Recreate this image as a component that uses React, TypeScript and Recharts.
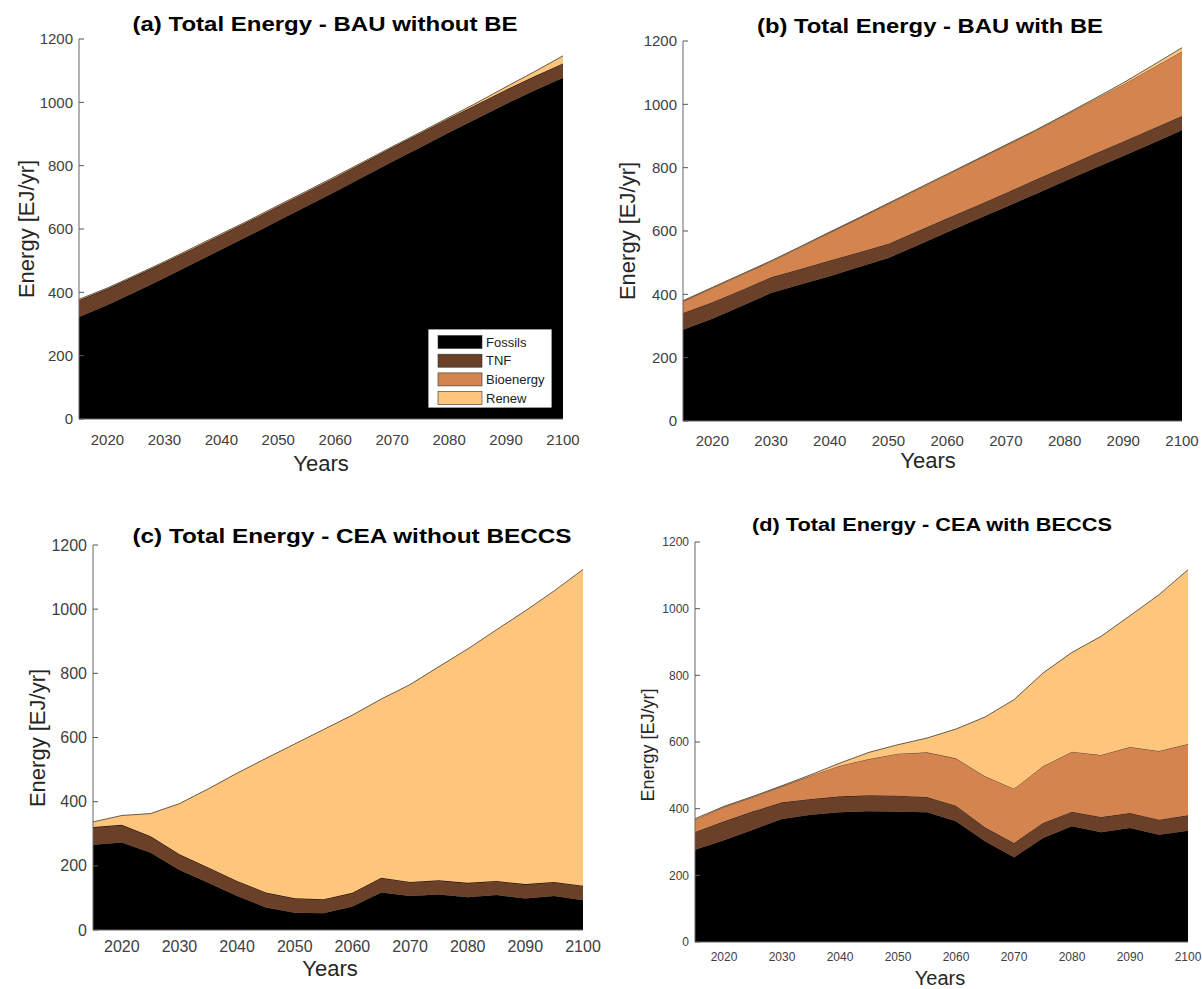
import React from 'react';
import { AreaChart, Area, XAxis, YAxis } from 'recharts';

const YEARS = [2015, 2020, 2025, 2030, 2035, 2040, 2045, 2050, 2055, 2060, 2065, 2070, 2075, 2080, 2085, 2090, 2095, 2100];
const X_TICKS = [2020, 2030, 2040, 2050, 2060, 2070, 2080, 2090, 2100];
const Y_TICKS = [0, 200, 400, 600, 800, 1000, 1200];
const SERIES = ['Fossils', 'TNF', 'Bioenergy', 'Renew'];
const COLORS = ['#000000', '#6B4029', '#D4844F', '#FEC57C'];

// (a) BAU without BE
const aFossils = [322, 360, 402, 445, 490, 535, 580, 626, 672, 718, 765, 812, 858, 905, 950, 995, 1037, 1078];
const aTNF = [53, 51, 50, 49, 48, 47, 46, 46, 45, 45, 45, 45, 45, 45, 45, 45, 45, 45];
const aBio = [0, 0, 0, 0, 0, 0, 0, 0, 0, 0, 0, 0, 0, 0, 0, 0, 0, 0];
const aRenew = [3, 3, 3, 3, 3, 3, 3, 3, 3, 3, 3, 3, 3, 3, 5, 9, 15, 24];

// (b) BAU with BE
const bFossils = [288, 323, 363, 404, 431, 457, 486, 515, 555, 596, 636, 676, 716, 757, 797, 837, 877, 918];
const bTNF = [53, 52, 51, 50, 49, 50, 47, 45, 45, 44, 44, 44, 46, 45, 46, 46, 46, 45];
const bBio = [37, 45, 48, 50, 69, 88, 107, 126, 132, 138, 144, 150, 154, 163, 171, 180, 192, 204];
const bRenew = [2, 2, 2, 2, 2, 2, 2, 2, 2, 2, 2, 2, 2, 2, 3, 5, 8, 12];

// (c) CEA without BECCS
const cFossils = [266, 273, 241, 187, 147, 106, 70, 54, 52, 73, 117, 106, 111, 102, 109, 98, 106, 93];
const cTNF = [55, 55, 51, 49, 48, 47, 47, 45, 44, 43, 46, 44, 44, 45, 44, 45, 44, 45];
const cBio = [0, 0, 0, 0, 0, 0, 0, 0, 0, 0, 0, 0, 0, 0, 0, 0, 0, 0];
const cRenew = [16, 29, 71, 158, 245, 336, 418, 481, 529, 554, 557, 615, 666, 729, 783, 852, 907, 986];

// (d) CEA with BECCS
const dFossils = [277, 305, 337, 369, 382, 389, 392, 391, 389, 362, 302, 254, 312, 347, 329, 342, 322, 334];
const dTNF = [53, 57, 55, 50, 47, 48, 48, 48, 46, 47, 42, 43, 45, 44, 46, 45, 45, 46];
const dBio = [37, 43, 43, 48, 70, 92, 109, 126, 134, 142, 153, 163, 170, 180, 186, 198, 206, 214];
const dRenew = [3, 2, 2, 2, 3, 8, 20, 27, 43, 88, 178, 267, 280, 298, 356, 394, 469, 523];

const TITLES = [
  '(a) Total Energy - BAU without BE',
  '(b) Total Energy - BAU with BE',
  '(c) Total Energy - CEA without BECCS',
  '(d) Total Energy - CEA with BECCS',
];
const Y_LABEL = 'Energy [EJ/yr]';
const X_LABEL = 'Years';

const FONT = '"Liberation Sans", Arial, Helvetica, sans-serif';
const W = 1202;
const H = 989;
const YW = 50;
const XH = 30;

function buildRows(f: number[], t: number[], b: number[], r: number[]) {
  return YEARS.map((year, i) => ({
    year,
    [SERIES[0]]: f[i],
    [SERIES[1]]: t[i],
    [SERIES[2]]: b[i],
    [SERIES[3]]: r[i],
  }));
}

type Layout = {
  x0: number; x1: number; y0: number; y1: number;
  tickFont: number; xTickOff: number;
  title: { cx: number; by: number; size: number; len: number };
  ylab: { x: number; cy: number; size: number };
  xlab: { cx: number; by: number; size: number };
};

const PANELS: { rows: any[]; layout: Layout }[] = [
  {
    rows: buildRows(aFossils, aTNF, aBio, aRenew),
    layout: {
      x0: 79, x1: 563, y0: 39, y1: 419, tickFont: 15, xTickOff: 26,
      title: { cx: 325, by: 31, size: 20, len: 385 },
      ylab: { x: 34, cy: 229, size: 22 },
      xlab: { cx: 321, by: 471, size: 22 },
    },
  },
  {
    rows: buildRows(bFossils, bTNF, bBio, bRenew),
    layout: {
      x0: 683, x1: 1182, y0: 41, y1: 421, tickFont: 15, xTickOff: 25,
      title: { cx: 930, by: 33, size: 20, len: 346 },
      ylab: { x: 635, cy: 231, size: 22 },
      xlab: { cx: 928, by: 468, size: 22 },
    },
  },
  {
    rows: buildRows(cFossils, cTNF, cBio, cRenew),
    layout: {
      x0: 93, x1: 583, y0: 545, y1: 930, tickFont: 16, xTickOff: 22,
      title: { cx: 352, by: 543, size: 20, len: 439 },
      ylab: { x: 45, cy: 738, size: 22 },
      xlab: { cx: 330, by: 976, size: 22 },
    },
  },
  {
    rows: buildRows(dFossils, dTNF, dBio, dRenew),
    layout: {
      x0: 695, x1: 1188, y0: 542, y1: 942, tickFont: 12, xTickOff: 19,
      title: { cx: 932, by: 531, size: 18, len: 360 },
      ylab: { x: 654, cy: 745, size: 18 },
      xlab: { cx: 940, by: 985, size: 20 },
    },
  },
];

const makeYTick = (fs: number) => (props: any) => {
  const { x, y, payload } = props;
  return (
    <g>
      <line x1={x} x2={x + 5} y1={y} y2={y} stroke="#555" strokeWidth={1} />
      <text x={x - 6} y={y} dy="0.35em" textAnchor="end" fontSize={fs} fill="#404040" fontFamily={FONT}>
        {payload.value}
      </text>
    </g>
  );
};

const makeXTick = (fs: number, off: number) => (props: any) => {
  const { x, y, payload } = props;
  return (
    <text x={x} y={y + off} textAnchor="middle" fontSize={fs} fill="#404040" fontFamily={FONT}>
      {payload.value}
    </text>
  );
};

function Panel({ rows, layout }: { rows: any[]; layout: Layout }) {
  const margin = {
    left: layout.x0 - YW,
    top: layout.y0,
    right: W - layout.x1,
    bottom: H - layout.y1 - XH,
  };
  return (
    <div style={{ position: 'absolute', left: 0, top: 0, width: W, height: H }}>
      <AreaChart width={W} height={H} data={rows} margin={margin}>
        <XAxis
          dataKey="year"
          type="number"
          domain={[2015, 2100]}
          ticks={X_TICKS}
          interval={0}
          height={XH}
          tickSize={0}
          tickMargin={0}
          tickLine={false}
          axisLine={{ stroke: '#666', strokeWidth: 1 }}
          tick={makeXTick(layout.tickFont, layout.xTickOff)}
        />
        <YAxis
          type="number"
          domain={[0, 1200]}
          ticks={Y_TICKS}
          interval={0}
          width={YW}
          tickSize={0}
          tickMargin={0}
          tickLine={false}
          axisLine={{ stroke: '#666', strokeWidth: 1 }}
          tick={makeYTick(layout.tickFont)}
        />
        {SERIES.map((s, i) => (
          <Area
            key={s}
            type="linear"
            dataKey={s}
            stackId="s"
            stroke="#000"
            strokeWidth={0.6}
            fill={COLORS[i]}
            fillOpacity={1}
            isAnimationActive={false}
            dot={false}
            activeDot={false}
          />
        ))}
      </AreaChart>
    </div>
  );
}

function Overlay() {
  const lg = { x: 428, y: 329, w: 124, h: 79 };
  return (
    <svg width={W} height={H} style={{ position: 'absolute', left: 0, top: 0, pointerEvents: 'none' }}>
      {PANELS.map((p, i) => {
        const L = p.layout;
        return (
          <g key={i} fontFamily={FONT}>
            <text
              x={L.title.cx}
              y={L.title.by}
              textAnchor="middle"
              fontSize={L.title.size}
              fontWeight="bold"
              fill="#000"
              textLength={L.title.len}
              lengthAdjust="spacingAndGlyphs"
            >
              {TITLES[i]}
            </text>
            <text
              x={L.ylab.x}
              y={L.ylab.cy}
              textAnchor="middle"
              fontSize={L.ylab.size}
              fill="#262626"
              transform={`rotate(-90 ${L.ylab.x} ${L.ylab.cy})`}
            >
              {Y_LABEL}
            </text>
            <text x={L.xlab.cx} y={L.xlab.by} textAnchor="middle" fontSize={L.xlab.size} fill="#262626">
              {X_LABEL}
            </text>
          </g>
        );
      })}
      <g fontFamily={FONT}>
        <rect x={lg.x} y={lg.y} width={lg.w} height={lg.h} fill="#fff" stroke="#000" strokeWidth={0.8} />
        {SERIES.map((s, i) => (
          <g key={s}>
            <rect x={lg.x + 10} y={lg.y + 6.5 + i * 18.7} width={44} height={13} fill={COLORS[i]} stroke="#333" strokeWidth={0.6} />
            <text x={lg.x + 58} y={lg.y + 13 + i * 18.7} dy="0.35em" fontSize={13} fill="#222">
              {s}
            </text>
          </g>
        ))}
      </g>
    </svg>
  );
}

export default function App() {
  return (
    <div style={{ position: 'absolute', left: 0, top: 0, width: W, height: H, background: '#fff', overflow: 'hidden' }}>
      {PANELS.map((p, i) => (
        <Panel key={i} rows={p.rows} layout={p.layout} />
      ))}
      <Overlay />
    </div>
  );
}
